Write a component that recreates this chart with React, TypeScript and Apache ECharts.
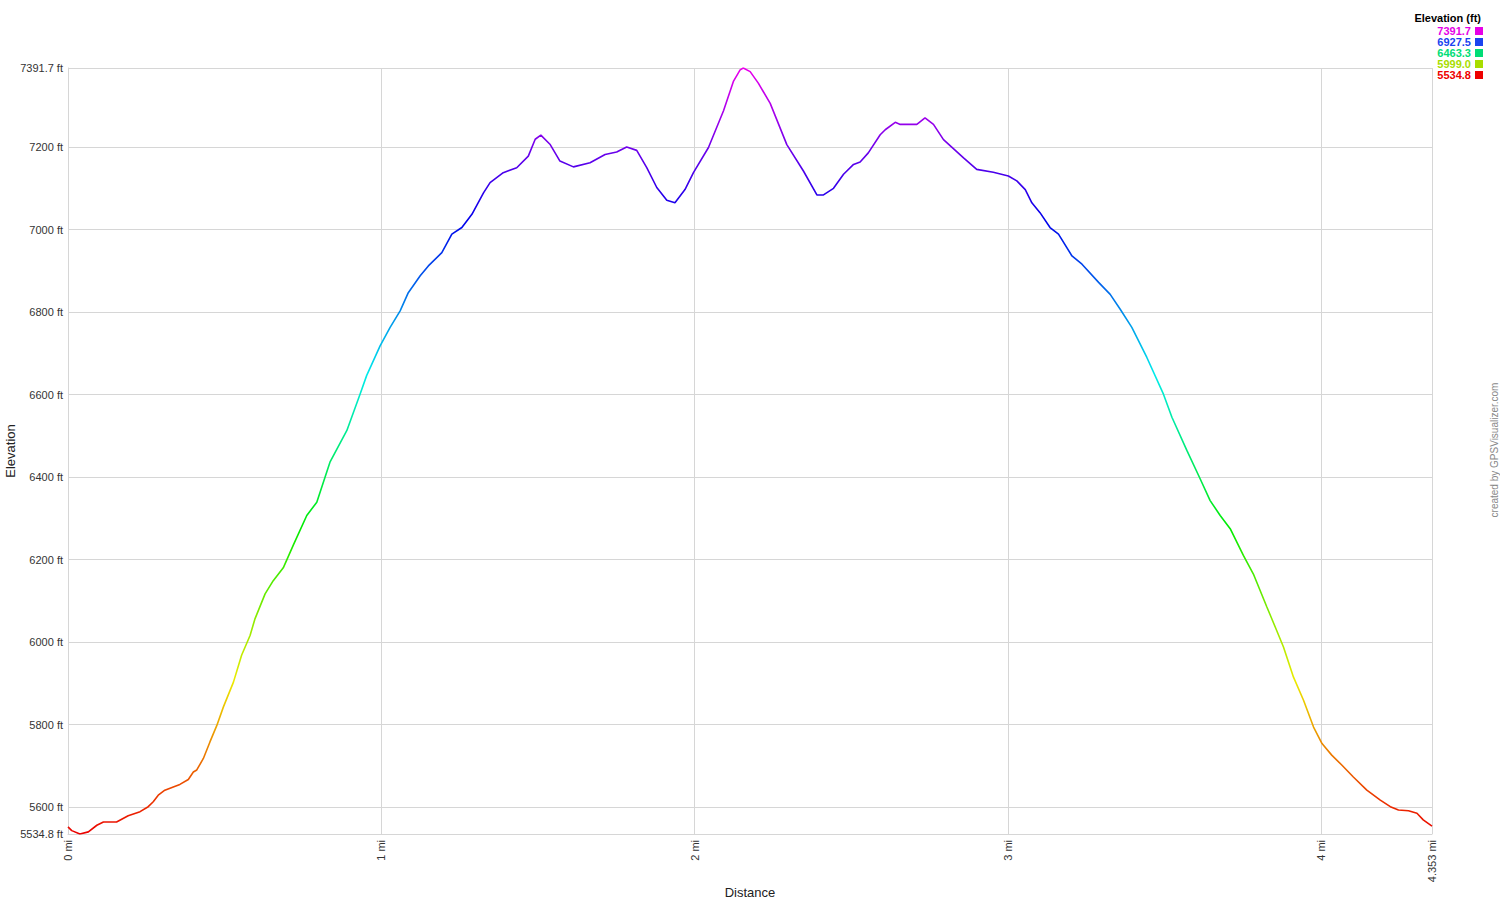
import React, { useEffect, useRef } from "react";
import * as echarts from "echarts";

const distanceMi = [
  0.0, 0.012, 0.038, 0.065, 0.092, 0.113, 0.155, 0.192, 0.23, 0.256, 0.272, 0.288, 0.309, 0.336, 0.357, 0.384,
  0.4, 0.411, 0.432, 0.453, 0.475, 0.496, 0.528, 0.554, 0.581, 0.597, 0.629, 0.655, 0.687, 0.719, 0.762, 0.794,
  0.836, 0.89, 0.932, 0.953, 0.996, 1.028, 1.06, 1.086, 1.124, 1.15, 1.193, 1.225, 1.257, 1.289, 1.326, 1.347,
  1.389, 1.432, 1.469, 1.491, 1.509, 1.538, 1.57, 1.613, 1.666, 1.714, 1.751, 1.783, 1.815, 1.847, 1.879, 1.911,
  1.937, 1.969, 1.996, 2.044, 2.092, 2.124, 2.145, 2.155, 2.177, 2.203, 2.241, 2.294, 2.347, 2.39, 2.411, 2.443,
  2.475, 2.507, 2.528, 2.554, 2.592, 2.608, 2.64, 2.656, 2.709, 2.735, 2.762, 2.794, 2.858, 2.9, 2.953, 3.001,
  3.028, 3.055, 3.076, 3.102, 3.134, 3.161, 3.204, 3.236, 3.289, 3.326, 3.358, 3.395, 3.443, 3.496, 3.523, 3.571,
  3.613, 3.645, 3.677, 3.709, 3.751, 3.783, 3.826, 3.853, 3.879, 3.911, 3.943, 3.975, 4.002, 4.033, 4.065, 4.102,
  4.145, 4.188, 4.22, 4.246, 4.278, 4.305, 4.325, 4.353,
];

const elevationFt = [
  5552, 5543, 5534.8, 5540, 5556, 5564, 5564, 5579, 5589, 5601, 5613, 5629, 5641, 5649, 5655, 5667,
  5685, 5690, 5718, 5758, 5798, 5843, 5903, 5968, 6016, 6057, 6117, 6149, 6180, 6235, 6307, 6339,
  6436, 6513, 6601, 6646, 6718, 6763, 6803, 6847, 6888, 6912, 6944, 6989, 7005, 7037, 7089, 7114,
  7138, 7150, 7178, 7219, 7229, 7207, 7166, 7152, 7162, 7182, 7188, 7200, 7192, 7150, 7102, 7071,
  7065, 7097, 7138, 7199, 7288, 7360, 7387, 7391.7, 7383, 7355, 7306, 7206, 7142, 7084, 7084, 7100,
  7134, 7158, 7164, 7186, 7230, 7242, 7260, 7255, 7255, 7271, 7255, 7218, 7174, 7146, 7139, 7130,
  7118, 7097, 7065, 7041, 7005, 6989, 6936, 6916, 6872, 6843, 6807, 6763, 6690, 6601, 6545, 6464,
  6396, 6343, 6307, 6275, 6210, 6165, 6085, 6036, 5988, 5915, 5859, 5794, 5754, 5726, 5702, 5673,
  5641, 5617, 5601, 5593, 5591, 5585, 5569, 5554,
];

const yTicks = [5534.8, 5600, 5800, 6000, 6200, 6400, 6600, 6800, 7000, 7200, 7391.7];
const xTicks = [0, 1, 2, 3, 4, 4.353];
const yMin = 5534.8;
const yMax = 7391.7;
const xMax = 4.353;

const legendTitle = "Elevation (ft)";
const legendValues = ["7391.7", "6927.5", "6463.3", "5999.0", "5534.8"];
const legendColors = ["#e600e6", "#1a44f0", "#00dd77", "#a8dd00", "#ee0000"];

function hslHex(h: number, s: number, l: number): string {
  s /= 100;
  l /= 100;
  const k = (n: number) => (n + h / 30) % 12;
  const a = s * Math.min(l, 1 - l);
  const f = (n: number) => l - a * Math.max(-1, Math.min(k(n) - 3, Math.min(9 - k(n), 1)));
  const toHex = (x: number) => Math.round(x * 255).toString(16).padStart(2, "0");
  return "#" + toHex(f(0)) + toHex(f(8)) + toHex(f(4));
}

const hueColors: string[] = [];
for (let h = 0; h <= 300; h += 15) hueColors.push(hslHex(h, 100, 46));

export default function App() {
  const ref = useRef<HTMLDivElement>(null);
  useEffect(() => {
    if (!ref.current) return;
    const chart = echarts.init(ref.current, null, { renderer: "svg" });
    const font = "'Liberation Sans', Arial, sans-serif";
    const data = distanceMi.map((d, i) => [d, elevationFt[i]]);
    const gridColor = "#d6d6d6";

    const legendGraphics: any[] = [
      {
        type: "text",
        right: 19,
        top: 12,
        style: { text: legendTitle, font: `bold 11px ${font}`, fill: "#000" },
      },
    ];
    legendValues.forEach((v, i) => {
      legendGraphics.push({
        type: "text",
        x: 1471,
        y: 31 + i * 11,
        style: {
          text: v,
          font: `bold 11px ${font}`,
          fill: legendColors[i],
          align: "right",
          verticalAlign: "middle",
        },
      });
      legendGraphics.push({
        type: "rect",
        shape: { x: 1475, y: 27 + i * 11, width: 8, height: 8 },
        style: { fill: legendColors[i] },
      });
    });
    legendGraphics.push({
      type: "text",
      x: 1494,
      y: 450,
      rotation: Math.PI / 2,
      style: {
        text: "created by GPSVisualizer.com",
        font: `10px ${font}`,
        fill: "#888",
        align: "center",
        verticalAlign: "middle",
      },
    });

    chart.setOption({
      animation: false,
      backgroundColor: "#fff",
      grid: {
        left: 68,
        right: 68,
        top: 68,
        bottom: 69,
        show: false,
        containLabel: false,
        outerBoundsMode: "none",
      },
      visualMap: {
        show: false,
        type: "continuous",
        dimension: 1,
        min: yMin,
        max: yMax,
        inRange: { color: hueColors },
      },
      xAxis: {
        type: "value",
        min: 0,
        max: xMax,
        name: "Distance",
        nameLocation: "middle",
        nameGap: 52,
        nameMoveOverlap: false,
        nameTextStyle: { fontFamily: font, fontSize: 13, color: "#222" },
        axisLine: { show: true, lineStyle: { color: gridColor, width: 1 } },
        axisTick: { show: false, customValues: xTicks },
        axisLabel: {
          customValues: xTicks,
          rotate: 90,
          fontFamily: font,
          fontSize: 11,
          color: "#333",
          margin: 6,
          formatter: (v: number) => `${v} mi`,
        },
        splitLine: { show: true, lineStyle: { color: gridColor, width: 1 } },
      },
      yAxis: {
        type: "value",
        min: yMin,
        max: yMax,
        name: "Elevation",
        nameLocation: "middle",
        nameGap: 51,
        nameRotate: 90,
        nameMoveOverlap: false,
        nameTextStyle: { fontFamily: font, fontSize: 13, color: "#222" },
        axisLine: { show: true, lineStyle: { color: gridColor, width: 1 } },
        axisTick: { show: false, customValues: yTicks },
        axisLabel: {
          customValues: yTicks,
          fontFamily: font,
          fontSize: 11,
          color: "#333",
          margin: 5,
          formatter: (v: number) =>
            (Number.isInteger(v) ? String(v) : v.toFixed(1)) + " ft",
        },
        splitLine: { show: true, lineStyle: { color: gridColor, width: 1 } },
      },
      graphic: legendGraphics,
      series: [
        {
          type: "line",
          data,
          showSymbol: false,
          lineStyle: { width: 1.6 },
          silent: true,
        },
      ],
    });
    return () => chart.dispose();
  }, []);
  return (
    <div
      ref={ref}
      style={{ position: "fixed", left: 0, top: 0, width: 1500, height: 903 }}
    />
  );
}
